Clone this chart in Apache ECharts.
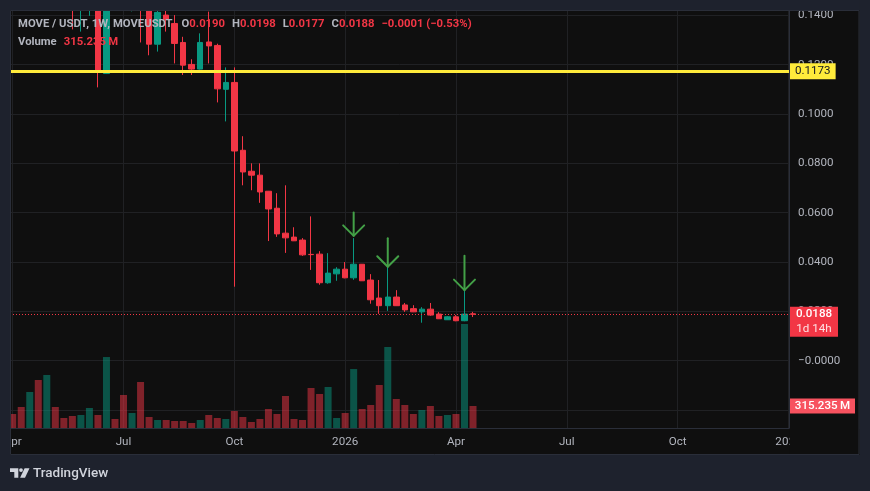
<!DOCTYPE html>
<html>
<head>
<meta charset="utf-8">
<title>MOVE / USDT 1W</title>
<script src="https://cdn.jsdelivr.net/npm/echarts@6.0.0/dist/echarts.min.js"></script>
<style>
html,body{margin:0;padding:0;background:#1e222d;overflow:hidden;}
#chart{width:870px;height:491px;}
</style>
</head>
<body>
<div id="chart"></div>
<script>
// ---------------- data ----------------
const symbolTitle = 'MOVE / USDT, 1W, MOVEUSDT';
const firstWeek = '2025-03-31';           // Monday of the first weekly candle
const opens  = [0.225,0.195,0.180,0.215,0.200,0.220,0.196,0.180,0.158,0.168,0.175,0.1164,0.152,0.147,0.1445,0.151,0.146,0.1283,0.1401,0.1367,0.1290,0.1201,0.1182,0.1292,0.1278,0.1100,0.1128,0.0853,0.0768,0.0752,0.0687,0.0618,0.0517,0.0501,0.0489,0.0431,0.0432,0.0316,0.0352,0.0371,0.0336,0.0391,0.0327,0.0254,0.0223,0.0258,0.0226,0.0211,0.0198,0.0209,0.0189,0.0166,0.0178,0.0162,0.0190];
const highs  = [0.250,0.215,0.230,0.225,0.235,0.225,0.200,0.185,0.172,0.182,0.178,0.158,0.156,0.151,0.156,0.154,0.148,0.146,0.1421,0.1401,0.1313,0.1222,0.1327,0.1415,0.1285,0.1189,0.1189,0.0910,0.0800,0.0800,0.0688,0.0679,0.0711,0.0541,0.0497,0.0585,0.0444,0.0436,0.0379,0.0400,0.0497,0.0392,0.0351,0.0327,0.0385,0.0286,0.0234,0.0225,0.0217,0.0234,0.0197,0.0181,0.0185,0.0287,0.0198];
const lows   = [0.180,0.170,0.175,0.185,0.195,0.190,0.172,0.1343,0.1334,0.1398,0.1108,0.1162,0.1440,0.1430,0.1416,0.1290,0.1238,0.1253,0.1334,0.1205,0.1158,0.1158,0.1180,0.1205,0.1047,0.0970,0.0300,0.0711,0.0691,0.0640,0.0485,0.0502,0.0437,0.0485,0.0425,0.0368,0.0308,0.0312,0.0324,0.0334,0.0328,0.0323,0.0231,0.0190,0.0202,0.0222,0.0198,0.0197,0.0154,0.0182,0.0169,0.0165,0.0160,0.0160,0.0177];
const closes = [0.195,0.180,0.215,0.200,0.220,0.196,0.180,0.158,0.168,0.175,0.1169,0.152,0.147,0.1445,0.151,0.146,0.1283,0.1412,0.1383,0.1286,0.1198,0.1182,0.1290,0.1276,0.1102,0.1128,0.0850,0.0765,0.0752,0.0684,0.0615,0.0514,0.0498,0.0486,0.0429,0.0430,0.0316,0.0355,0.0371,0.0336,0.0391,0.0324,0.0247,0.0223,0.0258,0.0223,0.0206,0.0198,0.0209,0.0185,0.0170,0.0178,0.0162,0.0189,0.0188];
const volumesM = [200.6,301,516,688,760,301,143,172,186,287,186,1017,129,473,215,659,158,115,115,100,100,72,115,186,143,129,244,158,86,129,272,201,459,129,115,573,487,588,143,215,845,272,330,616,1161,416,330,201,258,315,172,186,201,1490,315.235];
const timeTickDates  = ['2025-03-31','2025-06-30','2025-09-29','2025-12-29','2026-03-30','2026-06-29','2026-09-28','2026-12-28'];
const timeTickLabels = ['Apr','Jul','Oct','2026','Apr','Jul','Oct','2027'];
const priceTicks = [-0.02,0,0.02,0.04,0.06,0.08,0.10,0.12,0.14];
const horizontalLevel = 0.1173;
const arrowWeeks = [40,44,53];
const arrowTops  = [0.0601,0.0496,0.0425];
const arrowTips  = [0.0506,0.0381,0.0286];
const barCountdown = '1d 14h';

// ---------------- helpers ----------------
const DAY = 86400000, WEEK = 7 * DAY;
const toTs = s => { const p = s.split('-').map(Number); return Date.UTC(p[0], p[1] - 1, p[2]); };
const t0 = toTs(firstWeek);
const weeks = opens.map((_, i) => t0 + i * WEEK);
const xMin = t0 - 0.3168 * WEEK;
const xMax = t0 + 91.07 * WEEK;
const tickTimes = timeTickDates.map(toTs);
const n = closes.length, last = n - 1;

const UP = '#089981', DOWN = '#f23645', YELLOW = '#ffeb3b', TEXT = '#b2b5be';
const GRIDC = '#202124', BORDER = '#2a2e39', PANEL = '#0f0f0f', OUTER = '#1e222d', ARROW = '#43a047';
const FONT = 'Roboto, "Noto Sans", sans-serif';
const FS = 11.6, HFS = 11.3;

const fmtP = v => (v <= 0 ? '\u2212' : '') + Math.abs(v).toFixed(4);
const fmtSigned = (v, d) => (v < 0 ? '\u2212' : (v > 0 ? '+' : '')) + Math.abs(v).toFixed(d);
const tickLabel = v => { const k = tickTimes.indexOf(v); return k >= 0 ? timeTickLabels[k] : ''; };

const candleData = weeks.map((t, i) => [t, opens[i], closes[i], lows[i], highs[i]]);
const volumeData = weeks.map((t, i) => ({
  value: [t, volumesM[i]],
  itemStyle: { color: closes[i] >= opens[i] ? 'rgba(8,153,129,0.5)' : 'rgba(242,54,69,0.5)' }
}));
const arrowData = arrowWeeks.map((w, k) => [weeks[w], arrowTops[k], arrowTips[k]]);

const prevClose = closes[last - 1];
const chg = closes[last] - prevClose;
const pct = chg / prevClose * 100;
const volText = volumesM[last].toFixed(3) + '\u2009M';
const valColor = closes[last] >= opens[last] ? UP : DOWN;

const header =
  '{s|' + symbolTitle + '}{g2| }' +
  '{k|O}{v|' + fmtP(opens[last]) + '}{g| }' +
  '{k|H}{v|' + fmtP(highs[last]) + '}{g| }' +
  '{k|L}{v|' + fmtP(lows[last]) + '}{g| }' +
  '{k|C}{v|' + fmtP(closes[last]) + '}{g| }' +
  '{v|' + fmtSigned(chg, 4) + ' (' + fmtSigned(pct, 2) + '%)}' +
  '\n{k|Volume}{g| }{v|' + volText + '}';

const chart = echarts.init(document.getElementById('chart'), null, { renderer: 'canvas' });

const option = {
  animation: false,
  backgroundColor: PANEL,
  textStyle: { fontFamily: FONT },
  title: {
    text: header, left: 13, top: 10, padding: 5,
    textStyle: {
      fontSize: HFS, lineHeight: 18, fontFamily: FONT,
      rich: {
        s: { color: TEXT, fontSize: HFS, lineHeight: 18, fontFamily: FONT },
        k: { color: TEXT, fontSize: HFS, lineHeight: 18, fontFamily: FONT },
        v: { color: valColor, fontSize: HFS, lineHeight: 18, fontFamily: FONT },
        g: { width: 7, fontSize: HFS, lineHeight: 18 },
        g2: { width: 9, fontSize: HFS, lineHeight: 18 }
      }
    }
  },
  grid: [{ left: 10, top: 10, width: 779, height: 418, containLabel: false }],
  xAxis: [{
    type: 'value', gridIndex: 0, min: xMin, max: xMax, scale: true,
    axisLine: { show: true, onZero: false, lineStyle: { color: BORDER, width: 1 } },
    axisTick: { show: false, customValues: tickTimes },
    axisLabel: {
      customValues: tickTimes,
      formatter: tickLabel,
      color: TEXT, fontSize: FS, fontFamily: FONT, margin: 8, hideOverlap: false,
      showMinLabel: true, showMaxLabel: true
    },
    splitLine: { show: true, lineStyle: { color: GRIDC, width: 1 } }
  }],
  yAxis: [{
    type: 'value', gridIndex: 0, position: 'right', min: -0.02728, max: 0.14216,
    axisLine: { show: true, onZero: false, lineStyle: { color: BORDER, width: 1 } },
    axisTick: { show: false, customValues: priceTicks },
    axisLabel: { customValues: priceTicks, formatter: fmtP, color: TEXT, fontSize: FS, fontFamily: FONT, margin: 9, align: 'left' },
    splitLine: { show: true, lineStyle: { color: GRIDC, width: 1 } }
  }, {
    type: 'value', gridIndex: 0, min: 0, max: 5990, show: false,
    splitLine: { show: false }
  }],
  series: [{
    type: 'bar', name: 'Volume', xAxisIndex: 0, yAxisIndex: 1, data: volumeData,
    barWidth: 7, z: 1, silent: true,
    markPoint: {
      silent: true, animation: false,
      data: [{
        coord: [xMax, volumesM[last]], symbol: 'rect', symbolSize: [65, 15], symbolOffset: [33.5, 0],
        itemStyle: { color: '#f7525f' },
        label: {
          show: true, position: 'inside', formatter: volText,
          color: '#ffffff', fontSize: FS, lineHeight: 13, fontFamily: FONT, fontWeight: 500
        }
      }]
    }
  }, {
    type: 'candlestick', name: 'MOVEUSDT', xAxisIndex: 0, yAxisIndex: 0, data: candleData,
    barWidth: 6, z: 2, silent: true,
    itemStyle: { color: UP, color0: DOWN, borderColor: UP, borderColor0: DOWN, borderWidth: 1 },
    markLine: {
      symbol: ['none', 'none'], silent: true, animation: false, precision: 6,
      data: [{
        yAxis: horizontalLevel,
        lineStyle: { color: YELLOW, width: 3, type: 'solid' },
        label: {
          show: true, position: 'end', distance: 1, formatter: horizontalLevel.toFixed(4),
          color: '#131722', backgroundColor: YELLOW, padding: [2, 5, 1, 5],
          fontSize: FS, lineHeight: 13, fontFamily: FONT
        }
      }, {
        yAxis: closes[last],
        lineStyle: { color: DOWN, width: 1, type: [1, 2] },
        label: { show: false }
      }]
    },
    markPoint: {
      silent: true, animation: false,
      data: [{
        coord: [xMax, closes[last]], symbol: 'rect', symbolSize: [48, 30], symbolOffset: [25, 7.5],
        itemStyle: { color: DOWN },
        label: {
          show: true, position: 'inside',
          formatter: '{p|' + fmtP(closes[last]) + '}\n{t|' + barCountdown + '}',
          rich: {
            p: { color: '#ffffff', fontSize: FS, lineHeight: 15, fontFamily: FONT, fontWeight: 500 },
            t: { color: 'rgba(255,255,255,0.85)', fontSize: FS, lineHeight: 15, fontFamily: FONT }
          }
        }
      }]
    }
  }, {
    type: 'custom', name: 'arrows', xAxisIndex: 0, yAxisIndex: 0, data: arrowData, z: 3, silent: true,
    encode: { x: 0, y: [1, 2] },
    renderItem: (params, api) => {
      const a = api.coord([api.value(0), api.value(1)]);
      const b = api.coord([api.value(0), api.value(2)]);
      const h = 10.5;
      return {
        type: 'group', children: [
          { type: 'line', shape: { x1: a[0], y1: a[1], x2: b[0], y2: b[1] }, style: { stroke: ARROW, lineWidth: 2, fill: 'none', lineCap: 'round' } },
          { type: 'polyline', shape: { points: [[b[0] - h, b[1] - h], [b[0], b[1]], [b[0] + h, b[1] - h]] }, style: { stroke: ARROW, lineWidth: 2, fill: 'none', lineCap: 'round', lineJoin: 'round' } }
        ]
      };
    }
  }],
  graphic: {
    elements: [
      { type: 'rect', silent: true, z: 100, shape: { x: 0, y: 0, width: 870, height: 10 }, style: { fill: OUTER } },
      { type: 'rect', silent: true, z: 100, shape: { x: 0, y: 0, width: 10, height: 491 }, style: { fill: OUTER } },
      { type: 'rect', silent: true, z: 100, shape: { x: 859.5, y: 0, width: 11, height: 491 }, style: { fill: OUTER } },
      { type: 'rect', silent: true, z: 100, shape: { x: 0, y: 455, width: 870, height: 36 }, style: { fill: OUTER } },
      { type: 'rect', silent: true, z: 100, shape: { x: 789.5, y: 429, width: 70, height: 26 }, style: { fill: PANEL } },
      { type: 'rect', silent: true, z: 101, shape: { x: 10.5, y: 10.5, width: 848.5, height: 444 }, style: { fill: 'none', stroke: BORDER, lineWidth: 1 } },
      { type: 'polygon', silent: true, z: 102, shape: { points: [[10, 468.3], [18.3, 468.3], [18.3, 477.7], [14.3, 477.7], [14.3, 471.9], [10, 471.9]] }, style: { fill: '#d1d4dc' } },
      { type: 'circle', silent: true, z: 102, shape: { cx: 21, cy: 470.1, r: 1.9 }, style: { fill: '#d1d4dc' } },
      { type: 'polygon', silent: true, z: 102, shape: { points: [[24.6, 468.3], [29.5, 468.3], [25, 477.7], [20.1, 477.7]] }, style: { fill: '#d1d4dc' } },
      { type: 'text', silent: true, z: 102, x: 33, y: 473.3, style: { text: 'TradingView', fill: '#d1d4dc', fontSize: 13.5, fontFamily: FONT, fontWeight: 500, verticalAlign: 'middle', align: 'left' } }
    ]
  }
};
chart.setOption(option);
</script>
</body>
</html>
